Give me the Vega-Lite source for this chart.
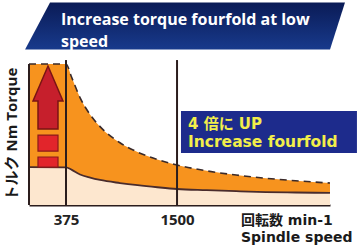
{
  "$schema": "https://vega.github.io/schema/vega-lite/v6.json",
  "width": 301,
  "height": 205,
  "autosize": {"type": "none"},
  "padding": {"left": 29, "top": 0, "right": 30, "bottom": 44},
  "background": "white",
  "config": {
    "view": {"stroke": null},
    "axisX": {"domainColor": "#2b1d1d", "domainWidth": 2, "ticks": false, "grid": false, "labelFontSize": 15, "labelFontWeight": "bold", "labelColor": "#222222", "labelFont": "Open Sans", "labelPadding": 7, "labelFlush": false, "format": "d"}
  },
  "layer": [
    {
      "data": {"values": [
        {"bx": -40, "bt": 106.9, "bb": 106.9},
        {"bx": 213, "bt": 139.3, "bb": 106.9},
        {"bx": 3050, "bt": 139.3, "bb": 106.9},
        {"bx": 3202, "bt": 139.3, "bb": 139.3}
      ]},
      "mark": {"type": "area", "interpolate": "linear", "color": {"gradient": "linear", "x1": 0, "y1": 0, "x2": 0, "y2": 1, "stops": [{"offset": 0, "color": "#0a1b56"}, {"offset": 1, "color": "#183a8c"}]}},
      "encoding": {
        "x": {"field": "bx", "type": "quantitative", "scale": {"domain": [0, 3050], "nice": false, "zero": false}, "axis": {"values": [375, 1500], "title": null}},
        "y": {"field": "bt", "type": "quantitative", "scale": {"domain": [0, 141], "nice": false, "zero": false}, "axis": null},
        "y2": {"field": "bb"}
      }
    },
    {
      "data": {"values": [{"t": ["Increase torque fourfold at low", "speed"]}]},
      "mark": {"type": "text", "align": "left", "baseline": "middle", "font": "Open Sans", "fontWeight": "bold", "fontSize": 16, "lineHeight": 22, "color": "white"},
      "encoding": {
        "x": {"datum": 324, "type": "quantitative", "scale": {"domain": [0, 3050], "nice": false, "zero": false}, "axis": {"values": [375, 1500], "title": null}},
        "y": {"datum": 127.2, "type": "quantitative", "scale": {"domain": [0, 141], "nice": false, "zero": false}, "axis": null},
        "text": {"field": "t"}
      }
    },
    {
      "data": {"name": "curves", "values": [
        {"rpm": 0, "upper": 97.0, "lower": 26.1},
        {"rpm": 375, "upper": 97.0, "lower": 25.9},
        {"rpm": 430, "upper": 88.2, "lower": 24.3},
        {"rpm": 517, "upper": 73.9, "lower": 21.0},
        {"rpm": 620, "upper": 62.1, "lower": 18.8},
        {"rpm": 720, "upper": 53.9, "lower": 17.2},
        {"rpm": 922, "upper": 42.8, "lower": 15.1},
        {"rpm": 1100, "upper": 36.4, "lower": 13.6},
        {"rpm": 1300, "upper": 31.3, "lower": 12.2},
        {"rpm": 1500, "upper": 27.5, "lower": 11.0},
        {"rpm": 1800, "upper": 23.5, "lower": 10.2},
        {"rpm": 2100, "upper": 20.6, "lower": 9.5},
        {"rpm": 2400, "upper": 18.4, "lower": 8.9},
        {"rpm": 2700, "upper": 16.7, "lower": 8.6},
        {"rpm": 3050, "upper": 15.1, "lower": 8.3}
      ]},
      "layer": [
        {
          "mark": {"type": "area", "interpolate": "monotone", "color": "#fde7cf"},
          "encoding": {
            "x": {"field": "rpm", "type": "quantitative", "scale": {"domain": [0, 3050], "nice": false, "zero": false}, "axis": {"values": [375, 1500], "title": null}},
            "y": {"field": "lower", "type": "quantitative", "scale": {"domain": [0, 141], "nice": false, "zero": false}, "axis": null}
          }
        },
        {
          "mark": {"type": "area", "interpolate": "monotone", "color": "#f7931e"},
          "encoding": {
            "x": {"field": "rpm", "type": "quantitative", "scale": {"domain": [0, 3050], "nice": false, "zero": false}, "axis": {"values": [375, 1500], "title": null}},
            "y": {"field": "upper", "type": "quantitative", "scale": {"domain": [0, 141], "nice": false, "zero": false}, "axis": null},
            "y2": {"field": "lower"}
          }
        },
        {
          "mark": {"type": "line", "interpolate": "monotone", "color": "#3a2a2a", "strokeWidth": 1.6, "strokeDash": [7, 5]},
          "encoding": {
            "x": {"field": "rpm", "type": "quantitative", "scale": {"domain": [0, 3050], "nice": false, "zero": false}, "axis": {"values": [375, 1500], "title": null}},
            "y": {"field": "upper", "type": "quantitative", "scale": {"domain": [0, 141], "nice": false, "zero": false}, "axis": null}
          }
        },
        {
          "mark": {"type": "line", "interpolate": "monotone", "color": "#4a2c2c", "strokeWidth": 1.8},
          "encoding": {
            "x": {"field": "rpm", "type": "quantitative", "scale": {"domain": [0, 3050], "nice": false, "zero": false}, "axis": {"values": [375, 1500], "title": null}},
            "y": {"field": "lower", "type": "quantitative", "scale": {"domain": [0, 141], "nice": false, "zero": false}, "axis": null}
          }
        }
      ]
    },
    {
      "data": {"values": [{"v": 375}, {"v": 1500}]},
      "mark": {"type": "rule", "color": "#2b1d1d", "strokeWidth": 2},
      "encoding": {
        "x": {"field": "v", "type": "quantitative", "scale": {"domain": [0, 3050], "nice": false, "zero": false}, "axis": {"values": [375, 1500], "title": null}},
        "y": {"datum": 0, "type": "quantitative", "scale": {"domain": [0, 141], "nice": false, "zero": false}, "axis": null},
        "y2": {"datum": 99.7}
      }
    },
    {
      "data": {"values": [{}]},
      "mark": {"type": "rule", "color": "#2b1d1d", "strokeWidth": 2},
      "encoding": {
        "x": {"datum": 0, "type": "quantitative", "scale": {"domain": [0, 3050], "nice": false, "zero": false}, "axis": {"values": [375, 1500], "title": null}},
        "y": {"datum": 0, "type": "quantitative", "scale": {"domain": [0, 141], "nice": false, "zero": false}, "axis": null},
        "y2": {"datum": 97}
      }
    },
    {
      "data": {"values": [{}]},
      "mark": {"type": "point", "shape": "M0,-1L0.476,0.111L0.317,0.111L0.317,1L-0.317,1L-0.317,0.111L-0.476,0.111Z", "size": 3969, "filled": true, "opacity": 1, "fill": "#c61f2c", "stroke": "#7a1414", "strokeWidth": 1.5},
      "encoding": {
        "x": {"datum": 192.5, "type": "quantitative", "scale": {"domain": [0, 3050], "nice": false, "zero": false}, "axis": {"values": [375, 1500], "title": null}},
        "y": {"datum": 73.9, "type": "quantitative", "scale": {"domain": [0, 141], "nice": false, "zero": false}, "axis": null}
      }
    },
    {
      "data": {"values": [{}]},
      "mark": {"type": "rect", "fill": "#e2252b", "stroke": "#8a1a1a", "strokeWidth": 1.2},
      "encoding": {
        "x": {"datum": 91, "type": "quantitative", "scale": {"domain": [0, 3050], "nice": false, "zero": false}, "axis": {"values": [375, 1500], "title": null}},
        "x2": {"datum": 294},
        "y": {"datum": 37.1, "type": "quantitative", "scale": {"domain": [0, 141], "nice": false, "zero": false}, "axis": null},
        "y2": {"datum": 48.1}
      }
    },
    {
      "data": {"values": [{}]},
      "mark": {"type": "rect", "fill": "#e2252b", "stroke": "#8a1a1a", "strokeWidth": 1.2},
      "encoding": {
        "x": {"datum": 91, "type": "quantitative", "scale": {"domain": [0, 3050], "nice": false, "zero": false}, "axis": {"values": [375, 1500], "title": null}},
        "x2": {"datum": 294},
        "y": {"datum": 26.1, "type": "quantitative", "scale": {"domain": [0, 141], "nice": false, "zero": false}, "axis": null},
        "y2": {"datum": 33.0}
      }
    },
    {
      "data": {"values": [{}]},
      "mark": {"type": "rect", "fill": "#1d2b8c"},
      "encoding": {
        "x": {"datum": 1540, "type": "quantitative", "scale": {"domain": [0, 3050], "nice": false, "zero": false}, "axis": {"values": [375, 1500], "title": null}},
        "x2": {"datum": 3323},
        "y": {"datum": 35.8, "type": "quantitative", "scale": {"domain": [0, 141], "nice": false, "zero": false}, "axis": null},
        "y2": {"datum": 64.7}
      }
    },
    {
      "data": {"values": [{"t": "4 倍に UP"}]},
      "mark": {"type": "text", "align": "left", "baseline": "middle", "font": "DejaVu Sans, Noto Sans CJK JP", "fontWeight": "bold", "fontSize": 15, "color": "#f2ee4a"},
      "encoding": {
        "x": {"datum": 1611, "type": "quantitative", "scale": {"domain": [0, 3050], "nice": false, "zero": false}, "axis": {"values": [375, 1500], "title": null}},
        "y": {"datum": 55.4, "type": "quantitative", "scale": {"domain": [0, 141], "nice": false, "zero": false}, "axis": null},
        "text": {"field": "t"}
      }
    },
    {
      "data": {"values": [{"t": "Increase fourfold"}]},
      "mark": {"type": "text", "align": "left", "baseline": "middle", "font": "DejaVu Sans, Noto Sans CJK JP", "fontWeight": "bold", "fontSize": 15.5, "color": "#f2ee4a"},
      "encoding": {
        "x": {"datum": 1611, "type": "quantitative", "scale": {"domain": [0, 3050], "nice": false, "zero": false}, "axis": {"values": [375, 1500], "title": null}},
        "y": {"datum": 43.3, "type": "quantitative", "scale": {"domain": [0, 141], "nice": false, "zero": false}, "axis": null},
        "text": {"field": "t"}
      }
    },
    {
      "data": {"values": [{"t": "トルク Nm Torque"}]},
      "mark": {"type": "text", "align": "center", "baseline": "middle", "angle": 270, "font": "Open Sans, Noto Sans CJK JP", "fontWeight": "bold", "fontSize": 15, "color": "#1a1a1a"},
      "encoding": {
        "x": {"datum": -172, "type": "quantitative", "scale": {"domain": [0, 3050], "nice": false, "zero": false}, "axis": {"values": [375, 1500], "title": null}},
        "y": {"datum": 48.8, "type": "quantitative", "scale": {"domain": [0, 141], "nice": false, "zero": false}, "axis": null},
        "text": {"field": "t"}
      }
    },
    {
      "data": {"values": [{"t": ["回転数 min-1", "Spindle speed"]}]},
      "mark": {"type": "text", "align": "left", "baseline": "middle", "font": "DejaVu Sans, Noto Sans CJK JP", "fontWeight": "bold", "fontSize": 14, "lineHeight": 17, "color": "#1a1a1a"},
      "encoding": {
        "x": {"datum": 2148, "type": "quantitative", "scale": {"domain": [0, 3050], "nice": false, "zero": false}, "axis": {"values": [375, 1500], "title": null}},
        "y": {"datum": -11.0, "type": "quantitative", "scale": {"domain": [0, 141], "nice": false, "zero": false}, "axis": null},
        "text": {"field": "t"}
      }
    }
  ]
}
